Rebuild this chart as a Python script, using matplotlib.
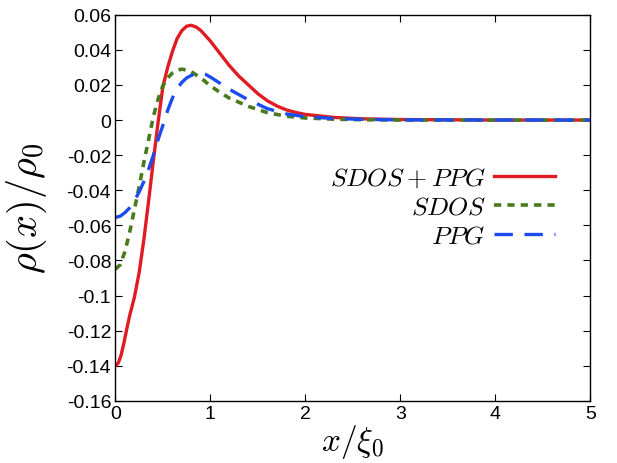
import matplotlib
matplotlib.use("Agg")
import matplotlib.pyplot as plt
from matplotlib.ticker import FuncFormatter, MultipleLocator

plt.rcParams["font.family"] = ["Liberation Sans", "DejaVu Sans"]
plt.rcParams["mathtext.fontset"] = "cm"
plt.rcParams["axes.unicode_minus"] = False

# values
x_both = [0, 0.03, 0.06, 0.09, 0.12, 0.15, 0.2, 0.25, 0.3, 0.35, 0.4, 0.45, 0.5, 0.55,
          0.6, 0.65, 0.7, 0.75, 0.8, 0.85, 0.9, 1.0, 1.1, 1.2, 1.3, 1.4, 1.5, 1.6,
          1.7, 1.8, 1.9, 2.0, 2.3, 2.6, 3.0, 4.0, 5.0]
rho_both = [-0.140, -0.1385, -0.134, -0.127, -0.119, -0.1115, -0.101, -0.087, -0.068,
            -0.046, -0.023, -0.001, 0.019, 0.030, 0.039, 0.0465, 0.051, 0.0535, 0.054,
            0.053, 0.051, 0.045, 0.038, 0.031, 0.025, 0.020, 0.015, 0.011, 0.008,
            0.0058, 0.0043, 0.0032, 0.0015, 0.0007, 0.0003, 0.0, 0.0]

x_sdos = [0, 0.05, 0.1, 0.15, 0.2, 0.25, 0.3, 0.35, 0.4, 0.45, 0.5, 0.55, 0.6, 0.65,
          0.7, 0.75, 0.8, 0.9, 1.0, 1.1, 1.2, 1.4, 1.6, 1.8, 2.0, 2.3, 2.6, 3.0, 5.0]
rho_sdos = [-0.085, -0.0825, -0.075, -0.064, -0.051, -0.038, -0.024, -0.011, 0.002,
            0.012, 0.0195, 0.024, 0.0268, 0.0285, 0.029, 0.0285, 0.0275, 0.024, 0.0195,
            0.0158, 0.0125, 0.0078, 0.0042, 0.0022, 0.0012, 0.0005, 0.0002, 0.0, 0.0]

x_ppg = [0, 0.05, 0.1, 0.15, 0.2, 0.25, 0.3, 0.35, 0.4, 0.45, 0.5, 0.55, 0.6, 0.65,
         0.7, 0.75, 0.8, 0.85, 0.9, 0.95, 1.0, 1.1, 1.2, 1.4, 1.6, 1.8, 2.0, 2.3,
         2.6, 3.0, 5.0]
rho_ppg = [-0.0555, -0.0548, -0.0528, -0.050, -0.046, -0.041, -0.035, -0.028, -0.020,
           -0.011, -0.003, 0.0055, 0.0125, 0.018, 0.0215, 0.024, 0.0255, 0.0263,
           0.0265, 0.026, 0.0245, 0.021, 0.0175, 0.0115, 0.0065, 0.0035, 0.0019,
           0.0009, 0.0004, 0.0001, 0.0]

fig = plt.figure(figsize=(6.17, 4.64), dpi=100)
ax = fig.add_axes([0.187, 0.134, 0.770, 0.832])

ax.plot(x_both, rho_both, color="#e01b22", lw=2.4, label=r"$SDOS+PPG$")
ax.plot(x_sdos, rho_sdos, color="#4a7a1e", lw=2.6, dashes=(2.0, 1.7), label=r"$SDOS$")
ax.plot(x_ppg, rho_ppg, color="#1a4cf0", lw=2.4, dashes=(5.5, 3.5), label=r"$PPG$")

ax.set_xlim(0, 5)
ax.set_ylim(-0.16, 0.06)
ax.xaxis.set_major_locator(MultipleLocator(1))
ax.yaxis.set_major_locator(MultipleLocator(0.02))
ax.yaxis.set_major_formatter(FuncFormatter(lambda v, p: "%g" % round(v, 4)))
ax.tick_params(direction="in", top=True, right=True, length=5, width=0.8,
               labelsize=14, pad=3)
for s in ax.spines.values():
    s.set_linewidth(1.0)

ax.set_xlabel(r"$x/\xi_0$", fontsize=24, labelpad=0)
ax.set_ylabel(r"$\rho(x)/\rho_0$", fontsize=29, labelpad=13)

ax.legend(loc="center right", bbox_to_anchor=(0.926, 0.503), frameon=False,
          markerfirst=False, fontsize=18.5, handlelength=2.4, handletextpad=0.3,
          labelspacing=0.2, borderpad=0, borderaxespad=0)
for t in ax.get_legend().get_texts():
    t.set_ha("right")

fig.savefig("out.png", dpi=100)
